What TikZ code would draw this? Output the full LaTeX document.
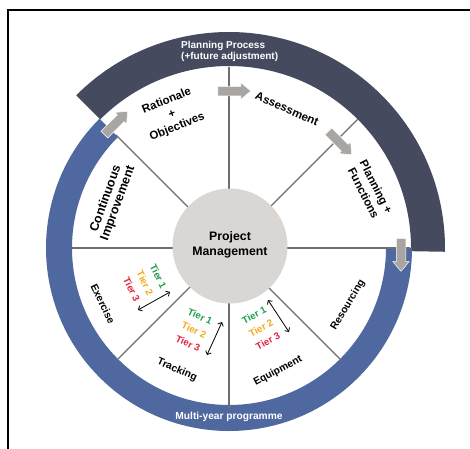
\documentclass[tikz,border=0pt]{standalone}
\usepackage{fontspec}
\setmainfont{Liberation Sans}
\usetikzlibrary{shapes.arrows,arrows.meta}
\definecolor{darknavy}{HTML}{454A5E}
\definecolor{ringblue}{HTML}{4F68A0}
\definecolor{hubgray}{HTML}{D9D6D3}
\definecolor{arrowgray}{HTML}{A8A5A2}
\definecolor{divgray}{HTML}{6E6E6E}
\definecolor{tiergreen}{HTML}{1E9E4A}
\definecolor{tierorange}{HTML}{F5A81C}
\definecolor{tierred}{HTML}{E5213F}
\begin{document}
\begin{tikzpicture}[x=1pt,y=1pt,
  lbl/.style={font=\bfseries\fontsize{11.5}{14}\selectfont, align=center, text=black, inner sep=0pt},
  smlbl/.style={font=\bfseries\fontsize{10.3}{12}\selectfont, align=center, text=black, inner sep=0pt},
  ringtext/.style={font=\bfseries\fontsize{10}{11}\selectfont, text=white, inner sep=0pt},
  tiers/.style={font=\bfseries\fontsize{9.7}{14.8}\selectfont, align=center, inner sep=0pt},
  divider/.style={draw=divgray, line width=1.2pt},
  blockarrow/.style={single arrow, fill=arrowgray, draw=white, line width=0.5pt,
    minimum height=33pt, inner xsep=0pt, inner ysep=4.5pt,
    single arrow head extend=3.5pt, single arrow tip angle=80},
  dblarrow/.style={line width=0.8pt, {Straight Barb[length=3pt,width=6pt]}-{Straight Barb[length=3pt,width=6pt]}}]
\useasboundingbox (-229,-200) rectangle (241,248);
\clip (-229,-200) rectangle (241,248);
\fill[white] (-229,-200) rectangle (241,248);
% frame
\draw[black, line width=2pt] (-221,-210) -- (-221,238) -- (250,238);
% outer rings
\fill[darknavy] (135:216) arc[start angle=135, end angle=-1, radius=216]
  -- (-1:182) arc[start angle=-1, end angle=135, radius=182] -- cycle;
\fill[ringblue] (135:183) arc[start angle=135, end angle=360, radius=183]
  -- (0:157) arc[start angle=360, end angle=135, radius=157] -- cycle;
% dividers
\coordinate (c) at (0,0);
\coordinate (r0) at (0:181);
\coordinate (r45) at (45:182);
\coordinate (r90) at (90:181);
\coordinate (r135) at (135:160);
\coordinate (r180) at (180:158);
\coordinate (r225) at (225:159);
\coordinate (r270) at (270:160);
\coordinate (r315) at (315:159);
\foreach \r in {r0,r45,r90,r135,r180,r225,r270,r315} \draw[divider] (c) -- (\r);
% hub
\node[circle, fill=hubgray, minimum size=115pt, inner sep=0pt] (pm) at (1,2) {};
\node[font=\bfseries\fontsize{12.3}{15}\selectfont, align=center, inner sep=0pt] (pmt) at (1,3.5) {Project\\Management};
% block arrows
\node[blockarrow, rotate=45] (a1) at (-115,123) {};
\node[blockarrow] (a2) at (2.5,157) {};
\node[blockarrow, rotate=-45] (a3) at (109,107) {};
\node[blockarrow, rotate=-90] (a4) at (172,-4) {};
% ring texts
\node[ringtext, align=left, anchor=west] (pp) at (-48,197) {Planning Process\\(+future adjustment)};
\node[ringtext, font=\bfseries\fontsize{10.2}{11}\selectfont] (my) at (0,-169) {Multi-year programme};
% segment labels
\node[lbl, rotate=22] (rat) at (-57,134) {Rationale\\+\\Objectives};
\node[lbl, rotate=-24] (ass) at (58,139) {Assessment};
\node[lbl, rotate=-63] (plan) at (141,58) {Planning +\\Functions};
\node[lbl, rotate=70, font=\bfseries\fontsize{12.5}{13}\selectfont] (ci) at (-117,47) {Continuous\\Improvement};
\node[smlbl, rotate=59] (res) at (119,-57) {Resourcing};
\node[smlbl, rotate=28] (eq) at (49,-123) {Equipment};
\node[smlbl, rotate=-24] (tr) at (-52,-122) {Tracking};
\node[smlbl, rotate=-64] (ex) at (-126,-56) {Exercise};
% tiers
\node[tiers, rotate=-24] (trt) at (-35,-82) {\textcolor{tiergreen}{Tier 1}\\\textcolor{tierorange}{Tier 2}\\\textcolor{tierred}{Tier 3}};
\node[tiers, rotate=28] (eqt) at (32,-80) {\textcolor{tiergreen}{Tier 1}\\\textcolor{tierorange}{Tier 2}\\\textcolor{tierred}{Tier 3}};
\node[tiers, rotate=-64] (ext) at (-84,-35) {\textcolor{tiergreen}{Tier 1}\\\textcolor{tierorange}{Tier 2}\\\textcolor{tierred}{Tier 3}};
\coordinate (tra) at (-7,-74);
\coordinate (trb) at (-22,-107);
\coordinate (eqa) at (39,-52);
\coordinate (eqb) at (60,-84);
\coordinate (exa) at (-59,-44);
\coordinate (exb) at (-91,-62);
\draw[dblarrow] (tra) -- (trb);
\draw[dblarrow] (eqa) -- (eqb);
\draw[dblarrow] (exa) -- (exb);
\end{tikzpicture}
\end{document}
